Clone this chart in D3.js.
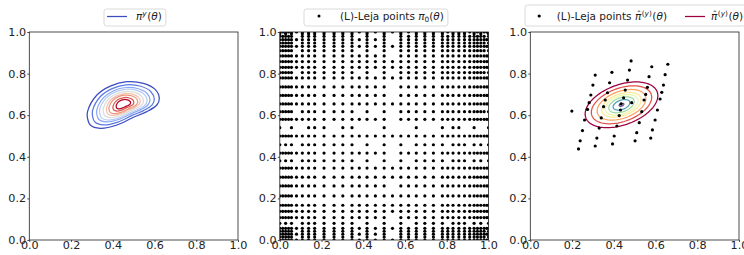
<!DOCTYPE html>
<html>
<head>
<meta charset="utf-8">
<script src="https://cdn.jsdelivr.net/npm/d3@7"></script>
<style>
  body { margin: 0; background: #fff; }
  svg { display: block; font-family: "DejaVu Sans", sans-serif; }
  text { white-space: pre; }
</style>
</head>
<body>
<svg id="chart" width="744" height="255"></svg>
<script>
// tick labels, same on every axis
const ticks = [0, 0.2, 0.4, 0.6, 0.8, 1.0];

// panel 1: outermost contour of pi^y, its centre,
// and the relative size of each nested contour (outer -> inner)
const postOutline = [
  [0.279, 0.617], [0.324, 0.697], [0.388, 0.740], [0.467, 0.761],
  [0.547, 0.753], [0.603, 0.724], [0.623, 0.681], [0.611, 0.649],
  [0.563, 0.617], [0.499, 0.590], [0.420, 0.553], [0.340, 0.537],
  [0.292, 0.553], [0.279, 0.585]
];
const postCenter = [0.451, 0.654];
const postLevels = [1, 0.86, 0.74, 0.66, 0.56, 0.47, 0.40, 0.29, 0.20];

// panel 2: 1D Leja nodes (used on both axes) and the level of each node;
// a grid point is kept when level(x) + level(y) <= lejaMaxLevel
const lejaNodes = [0, 0.014, 0.028, 0.042, 0.056, 0.08, 0.108, 0.138, 0.167, 0.212,
  0.26, 0.302, 0.346, 0.381, 0.418, 0.458, 0.5, 0.54, 0.58, 0.617, 0.654, 0.695,
  0.736, 0.779, 0.805, 0.83, 0.858, 0.885, 0.91, 0.931, 0.947, 0.963, 0.979, 0.992, 1];
const lejaLevel = [1, 5, 4, 5, 3, 6, 4, 3, 2, 3,
  4, 3, 3, 6, 4, 6, 0, 7, 4, 5, 3, 4,
  4, 2, 5, 3, 3, 4, 5, 3, 5, 4, 5, 6, 1];
const lejaMaxLevel = 10;

// panel 3: Leja points of the surrogate
const mappedPts = [
  [0.483, 0.861], [0.659, 0.845], [0.582, 0.833], [0.391, 0.806], [0.475, 0.817],
  [0.311, 0.793], [0.569, 0.785], [0.646, 0.795], [0.300, 0.745], [0.380, 0.756],
  [0.466, 0.769], [0.561, 0.734], [0.638, 0.745], [0.290, 0.697], [0.370, 0.708],
  [0.455, 0.721], [0.630, 0.710], [0.553, 0.700], [0.282, 0.660], [0.359, 0.673],
  [0.447, 0.684], [0.545, 0.673], [0.622, 0.678], [0.274, 0.628], [0.351, 0.641],
  [0.432, 0.625], [0.486, 0.660], [0.534, 0.617], [0.609, 0.625], [0.199, 0.620],
  [0.435, 0.654], [0.260, 0.577], [0.340, 0.587], [0.426, 0.598], [0.522, 0.564],
  [0.598, 0.577], [0.250, 0.526], [0.330, 0.538], [0.415, 0.548], [0.510, 0.516],
  [0.585, 0.529], [0.239, 0.477], [0.319, 0.490], [0.402, 0.500], [0.502, 0.477],
  [0.577, 0.490], [0.231, 0.438], [0.311, 0.452], [0.394, 0.462]
];
// gaussian surrogate: centre, semi axes, tilt in degrees, contour radii (outer -> inner)
const surrCenter = [0.437, 0.650];
const surrAxes = [0.182, 0.0965];
const surrTilt = 20;
const surrLevels = [1, 0.83, 0.67, 0.54, 0.45, 0.35, 0.23, 0.065];

const FS = 11.2, LFS = 10.5;
const W = 208.7, TOP = 32, BOT = 240;
const coolwarm = d3.piecewise(d3.interpolateRgb,
  ['#3b4cc0', '#6788ee', '#aac7fd', '#dddcdc', '#f7b89c', '#e7745b', '#b40426']);

const svg = d3.select('#chart');

const panels = [29.3, 279.8, 530.3].map((x0, i) => {
  const x = d3.scaleLinear().domain([0, 1]).range([x0, x0 + W]);
  const y = d3.scaleLinear().domain([0, 1]).range([BOT, TOP]);
  const g = svg.append('g');
  g.append('clipPath').attr('id', 'clip' + i)
    .append('rect')
    .attr('x', x0).attr('y', TOP)
    .attr('width', W).attr('height', BOT - TOP);
  const plot = g.append('g').attr('clip-path', `url(#clip${i})`);
  return { x, y, g, plot };
});

// ---- panel 1: pi^y contours
{
  const { x, y, plot } = panels[0];
  const line = d3.line().x(d => x(d[0])).y(d => y(d[1])).curve(d3.curveCatmullRomClosed);
  postLevels.forEach((s, k) => {
    const pts = postOutline.map(p => [
      postCenter[0] + (p[0] - postCenter[0]) * s,
      postCenter[1] + (p[1] - postCenter[1]) * s
    ]);
    plot.append('path')
      .attr('d', line(pts))
      .attr('fill', 'none')
      .attr('stroke', coolwarm(k / (postLevels.length - 1)))
      .attr('stroke-width', 1.25);
  });
}

// ---- panel 2: sparse grid of Leja points
{
  const { x, y, plot } = panels[1];
  const pts = [];
  lejaNodes.forEach((xi, i) => {
    lejaNodes.forEach((yj, j) => {
      if (lejaLevel[i] + lejaLevel[j] <= lejaMaxLevel) pts.push([xi, yj]);
    });
  });
  plot.append('g')
    .selectAll('circle')
    .data(pts)
    .enter()
    .append('circle')
    .attr('cx', d => x(d[0]))
    .attr('cy', d => y(d[1]))
    .attr('r', 1.6)
    .attr('fill', '#000');
}

// ---- panel 3: surrogate contours + points
{
  const { x, y, plot } = panels[2];
  const t = surrTilt * Math.PI / 180;
  const line = d3.line().x(d => x(d[0])).y(d => y(d[1])).curve(d3.curveLinearClosed);
  surrLevels.forEach((s, k) => {
    const pts = d3.range(0, 2 * Math.PI, Math.PI / 60).map(a => {
      const u = surrAxes[0] * s * Math.cos(a), v = surrAxes[1] * s * Math.sin(a);
      return [surrCenter[0] + u * Math.cos(t) - v * Math.sin(t),
              surrCenter[1] + u * Math.sin(t) + v * Math.cos(t)];
    });
    plot.append('path')
      .attr('d', line(pts))
      .attr('fill', 'none')
      .attr('stroke', d3.interpolateSpectral(k / (surrLevels.length - 1)))
      .attr('stroke-width', 1.25);
  });
  plot.append('g')
    .selectAll('circle')
    .data(mappedPts)
    .enter()
    .append('circle')
    .attr('cx', d => x(d[0]))
    .attr('cy', d => y(d[1]))
    .attr('r', 1.6)
    .attr('fill', '#000');
}

// ---- axes and frames
panels.forEach(({ x, y, g }) => {
  const fmt = d3.format('.1f');
  const ax = g.append('g').attr('transform', `translate(0,${BOT})`)
    .call(d3.axisBottom(x).tickValues(ticks).tickFormat(fmt).tickSize(2).tickPadding(0));
  ax.selectAll('text').attr('y', 8.6).attr('dy', null);
  const ay = g.append('g').attr('transform', `translate(${x(0)},0)`)
    .call(d3.axisLeft(y).tickValues(ticks).tickFormat(fmt).tickSize(2).tickPadding(1.2));
  [ax, ay].forEach(a => {
    a.select('.domain').remove();
    a.selectAll('text').attr('font-size', FS).attr('font-family', 'DejaVu Sans').attr('fill', '#222');
    a.selectAll('line').attr('stroke', '#222').attr('stroke-width', 0.8);
  });
  g.append('rect')
    .attr('x', x(0)).attr('y', TOP)
    .attr('width', x(1) - x(0)).attr('height', BOT - TOP)
    .attr('fill', 'none').attr('stroke', '#222').attr('stroke-width', 0.8);
});

// ---- legends with little math layouts
function mathText(g, x0, base, pieces) {
  let cx = x0;
  pieces.forEach(p => {
    const size = (p.sup || p.sub) ? LFS * 0.7 : LFS;
    const dy = p.sup ? -LFS * 0.4 : p.sub ? LFS * 0.22 : 0;
    const t = g.append('text')
      .attr('x', cx).attr('y', base + dy)
      .attr('font-size', size)
      .attr('font-style', p.it ? 'italic' : null)
      .attr('fill', '#222')
      .text(p.t);
    const w = t.node().getComputedTextLength();
    if (p.hat) {
      g.append('text')
        .attr('x', cx + w / 2 + 0.8).attr('y', base - 1.6)
        .attr('text-anchor', 'middle')
        .attr('font-size', LFS * 0.9)
        .attr('fill', '#222')
        .text('\u02C6');
    }
    cx += w + (p.gap || 0);
  });
  return cx;
}

function legendBox(g, x0, x1, top) {
  g.insert('rect', ':first-child')
    .attr('x', x0).attr('y', top)
    .attr('width', x1 - x0).attr('height', 26 - top)
    .attr('rx', 2.5)
    .attr('fill', '#fff').attr('fill-opacity', 0.8)
    .attr('stroke', '#d0d0d0').attr('stroke-width', 0.8);
}

const base = 20;
{
  const g = svg.append('g');
  const tx = 136;
  g.append('line').attr('x1', tx - 29).attr('x2', tx - 9).attr('y1', 16.5).attr('y2', 16.5)
    .attr('stroke', coolwarm(0)).attr('stroke-width', 1.25);
  const end = mathText(g, tx, base, [
    { t: 'π', it: true }, { t: 'y', it: true, sup: true, gap: 0.5 },
    { t: '(' }, { t: 'θ', it: true }, { t: ')' }
  ]);
  legendBox(g, tx - 32, end + 4, 9);
}
{
  const g = svg.append('g');
  const tx = 340;
  g.append('circle').attr('cx', tx - 21).attr('cy', 16).attr('r', 1.5).attr('fill', '#000');
  const end = mathText(g, tx, base, [
    { t: '(L)-Leja points', gap: 3.3 }, { t: 'π', it: true }, { t: '0', sub: true },
    { t: '(' }, { t: 'θ', it: true }, { t: ')' }
  ]);
  legendBox(g, tx - 36, end + 4, 9);
}
{
  const g = svg.append('g');
  const tx = 556.7;
  g.append('circle').attr('cx', tx - 17.5).attr('cy', 16).attr('r', 1.6).attr('fill', '#000');
  const hatPi = [
    { t: 'π', it: true, hat: true, gap: 0.5 }, { t: '(', sup: true }, { t: 'y', it: true, sup: true },
    { t: ')', sup: true, gap: 0.5 }, { t: '(' }, { t: 'θ', it: true }, { t: ')' }
  ];
  mathText(g, tx, base, [{ t: '(L)-Leja points', gap: 3.3 }].concat(hatPi));
  const hx = 685;
  g.append('line').attr('x1', hx).attr('x2', hx + 20).attr('y1', 16.5).attr('y2', 16.5)
    .attr('stroke', d3.interpolateSpectral(0)).attr('stroke-width', 1.25);
  const end2 = mathText(g, hx + 26, base, hatPi);
  legendBox(g, tx - 31.7, end2 + 4, 5);
}
</script>
</body>
</html>
